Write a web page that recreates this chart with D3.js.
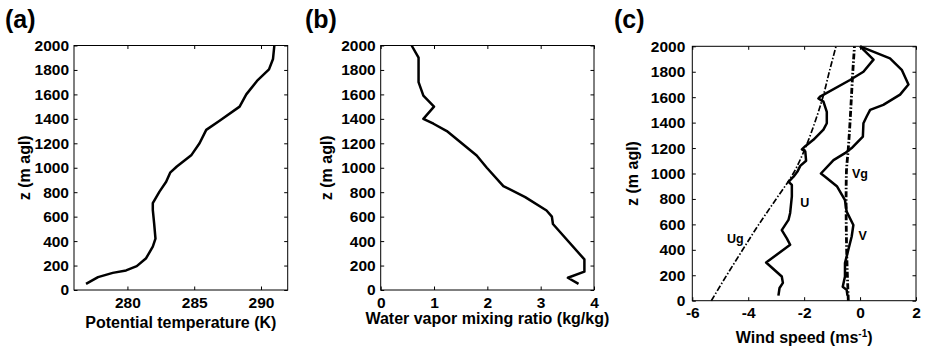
<!DOCTYPE html>
<html>
<head>
<meta charset="utf-8">
<script src="https://cdn.jsdelivr.net/npm/d3@7"></script>
<style>
  body { margin: 0; background: #fff; }
  svg { display: block; font-family: "Liberation Sans", Arial, Helvetica, sans-serif; font-weight: bold; }
</style>
</head>
<body>
<svg id="chart" width="925" height="348"></svg>
<script>
// height ticks shared by all three panels
const zTicks = d3.range(0, 2001, 200);

// (a) potential temperature profile
const thetaZ = [50, 105, 140, 160, 195, 260, 355, 420, 545, 655, 710, 805, 885, 960, 1010, 1105, 1200, 1310, 1385, 1500, 1600, 1710, 1805, 1890, 2000];
const thetaK = [276.9, 277.8, 278.9, 279.9, 280.7, 281.4, 281.9, 282.1, 282.0, 281.9, 281.9, 282.4, 282.9, 283.2, 283.7, 284.8, 285.4, 285.9, 286.9, 288.4, 288.9, 289.7, 290.6, 290.9, 291.0];
const thetaTicks = [280, 285, 290];

// (b) water vapor mixing ratio
const qZ = [50, 100, 150, 250, 540, 600, 650, 760, 850, 1000, 1100, 1300, 1360, 1400, 1500, 1590, 1700, 1900, 2000];
const qV = [3.71, 3.51, 3.82, 3.82, 3.23, 3.21, 3.11, 2.71, 2.30, 1.99, 1.80, 1.24, 0.99, 0.80, 1.00, 0.80, 0.71, 0.71, 0.58];
const qTicks = [0, 1, 2, 3, 4];

// (c) wind components, observed and geostrophic
const uZ = [40, 100, 140, 190, 300, 440, 490, 555, 635, 690, 820, 910, 935, 975, 1015, 1060, 1100, 1175, 1190, 1215, 1265, 1345, 1395, 1485, 1565, 1590, 1605, 1735, 1800, 1895, 2000];
const uV = [-2.92, -2.88, -2.76, -2.80, -3.36, -2.50, -2.62, -2.80, -2.56, -2.50, -2.44, -2.44, -2.56, -2.38, -2.24, -2.14, -1.93, -1.96, -2.08, -1.96, -1.67, -1.31, -1.19, -1.19, -1.31, -1.49, -1.43, -0.36, 0.12, 0.48, 0.0];
const vZ = [40, 85, 110, 190, 295, 400, 505, 595, 700, 790, 900, 975, 1000, 1105, 1160, 1200, 1290, 1395, 1450, 1500, 1540, 1620, 1700, 1815, 1905, 2000];
const vV = [-0.45, -0.48, -0.62, -0.54, -0.54, -0.42, -0.30, -0.24, -0.48, -0.54, -0.83, -1.25, -1.40, -0.95, -0.54, -0.30, 0.10, 0.12, 0.24, 0.36, 0.83, 1.43, 1.73, 1.49, 1.07, 0.0];
const ugZ = [0, 200, 400, 600, 800, 1000, 1200, 1400, 1600, 1800, 2000];
const ugV = [-5.32, -4.77, -4.20, -3.62, -3.00, -2.39, -1.96, -1.62, -1.33, -1.10, -0.86];
const vgZ = [0, 400, 800, 1000, 1200, 1400, 1600, 1800, 2000];
const vgV = [-0.42, -0.48, -0.50, -0.49, -0.42, -0.36, -0.31, -0.26, -0.20];
const windTicks = [-6, -4, -2, 0, 2];

// curve names in panel (c), placed in data units
const windLabels = ["Ug", "U", "Vg", "V"];
const windLabelU = [-4.76, -2.14, -0.29, -0.06];
const windLabelZ = [452, 740, 961, 478];

const svg = d3.select("#chart");

function zip(xs, zs) {
  return xs.map((x, i) => ({x: x, z: zs[i]}));
}

// plain labels: no thousands comma, ascii hyphen for minus
const plain = d => String(d);

// draws one boxed panel, matlab style: ticks inside on all four sides
function drawPanel(p) {
  const x = d3.scaleLinear().domain(p.xDomain).range([p.left, p.right]);
  const y = d3.scaleLinear().domain([0, 2000]).range([p.bottom, p.top]);
  const g = svg.append("g");

  g.append("rect")
      .attr("x", p.left).attr("y", p.top)
      .attr("width", p.right - p.left).attr("height", p.bottom - p.top)
      .attr("fill", "none").attr("stroke", "#000").attr("stroke-width", 1);

  const tk = 3.5;
  const axes = [
    [d3.axisBottom(x).tickValues(p.xTicks).tickFormat(plain).tickPadding(p.xPad), `translate(0,${p.bottom})`],
    [d3.axisTop(x).tickValues(p.xTicks).tickFormat(""), `translate(0,${p.top})`],
    [d3.axisLeft(y).tickValues(zTicks).tickFormat(plain).tickPadding(p.yPad), `translate(${p.left},0)`],
    [d3.axisRight(y).tickValues(zTicks).tickFormat(""), `translate(${p.right},0)`]
  ];
  axes.forEach(([ax, tr]) => {
    const a = g.append("g").attr("transform", tr)
        .call(ax.tickSizeInner(-tk).tickSizeOuter(0));
    a.select(".domain").remove();
    a.selectAll("line").attr("stroke", "#000");
    a.selectAll("text")
        .attr("fill", "#000")
        .style("font-size", "15.5px")
        .style("font-family", "inherit")
        .style("font-weight", "bold");
  });

  // panel letter
  g.append("text")
      .attr("x", p.tagX).attr("y", 28)
      .style("font-size", "25px")
      .text(p.tag);

  // y title
  g.append("text")
      .attr("transform", `translate(${p.yTitleX},${(p.top + p.bottom) / 2}) rotate(-90)`)
      .attr("text-anchor", "middle")
      .style("font-size", "16px")
      .text("z (m agl)");

  // x title
  const xt = g.append("text")
      .attr("x", (p.left + p.right) / 2).attr("y", p.xTitleY)
      .attr("text-anchor", "middle")
      .style("font-size", "16px")
      .text(p.xTitle);
  if (p.xTitleSup) {
    xt.append("tspan").attr("dy", -6).style("font-size", "10px").text(p.xTitleSup);
    xt.append("tspan").attr("dy", 6).text(")");
  }

  const line = d3.line().x(d => x(d.x)).y(d => y(d.z));
  p.series.forEach(s => {
    g.append("path")
        .datum(s.data)
        .attr("d", line.curve(s.curve || d3.curveLinear))
        .attr("fill", "none")
        .attr("stroke", "#000")
        .attr("stroke-width", s.width)
        .attr("stroke-linejoin", "round")
        .attr("stroke-dasharray", s.dash || null);
  });

  return {x: x, y: y, g: g};
}

drawPanel({
  tag: "(a)", tagX: 5,
  left: 74, right: 287.7, top: 45.5, bottom: 290,
  xDomain: [276, 292], xTicks: thetaTicks, xPad: 7, yPad: 5,
  yTitleX: 30, xTitleY: 327.5,
  xTitle: "Potential temperature (K)",
  series: [{data: zip(thetaK, thetaZ), width: 2.5}]
});

drawPanel({
  tag: "(b)", tagX: 305,
  left: 380.7, right: 594, top: 45.5, bottom: 290,
  xDomain: [0, 4], xTicks: qTicks, xPad: 7, yPad: 5,
  yTitleX: 331.5, xTitleY: 323.5,
  xTitle: "Water vapor mixing ratio (kg/kg)",
  series: [{data: zip(qV, qZ), width: 2.5}]
});

const pc = drawPanel({
  tag: "(c)", tagX: 614,
  left: 692.3, right: 916, top: 46.3, bottom: 300.7,
  xDomain: [-6, 2], xTicks: windTicks, xPad: 6, yPad: 7,
  yTitleX: 638, xTitleY: 343,
  xTitle: "Wind speed (ms", xTitleSup: "-1",
  series: [
    {data: zip(ugV, ugZ), width: 1.7, dash: "6,2,1.5,2", curve: d3.curveMonotoneY},
    {data: zip(vgV, vgZ), width: 2.8, dash: "6,2,1.5,2", curve: d3.curveMonotoneY},
    {data: zip(uV, uZ), width: 2.5},
    {data: zip(vV, vZ), width: 2.5}
  ]
});

pc.g.selectAll("text.curve-label")
  .data(windLabels)
  .join("text")
    .attr("class", "curve-label")
    .attr("x", (d, i) => pc.x(windLabelU[i]))
    .attr("y", (d, i) => pc.y(windLabelZ[i]))
    .style("font-size", "12.5px")
    .text(d => d);
</script>
</body>
</html>
